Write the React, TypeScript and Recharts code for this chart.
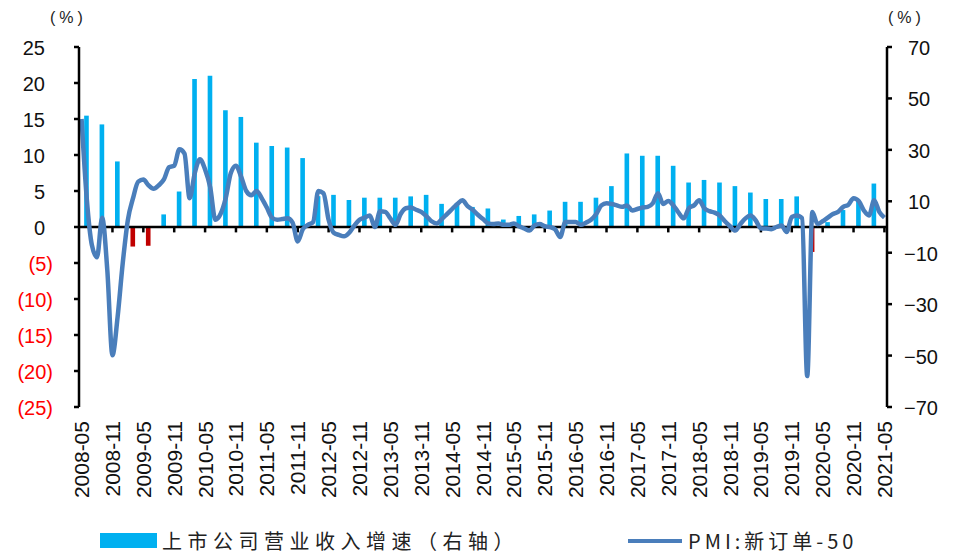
import { ComposedChart, Bar, Line, XAxis, YAxis, ReferenceLine, Cell } from "recharts";

// monthly categories 2008-05 .. 2021-05
const START_YEAR = 2008;
const START_MONTH = 5;
const MONTH_COUNT = 157;
const months: string[] = [];
for (let k = 0; k < MONTH_COUNT; k++) {
  const m = START_MONTH - 1 + k;
  const y = START_YEAR + Math.floor(m / 12);
  months.push(`${y}-${String((m % 12) + 1).padStart(2, "0")}`);
}

// PMI: new orders - 50 (left axis), monthly
const pmiNewOrders: number[] = [
  // 2008 May-Dec
  15, 4, -2.5, -4.2, 1.3, -6, -17.8, -12.5,
  // 2009
  -5, 1, 4, 6.3, 6.6, 5.8, 5.3, 5.8, 6.6, 8.3, 8.5, 10.8,
  // 2010
  10.2, 4.0, 7.5, 9.4, 8.0, 5.5, 1.0, 1.8, 4.0, 7.5, 8.5, 7.0,
  // 2011
  5.0, 4.4, 5.0, 4.0, 2.7, 1.3, 1.0, 1.1, 1.2, 0.6, -2.0, -0.3,
  // 2012
  0.3, 0.7, 5.0, 4.7, 1.0, -0.8, -1.1, -1.3, -0.8, 0.2, 1.0, 1.3,
  // 2013
  1.6, 0, 2.2, 2.1, 1.2, 0.3, 1.8, 2.6, 2.7, 2.4, 2.1, 1.5,
  // 2014
  0.8, 0.5, 1.1, 1.8, 2.5, 3.2, 3.7, 2.9, 2.4, 1.7, 1.1, 0.5,
  // 2015
  0.4, 0.5, 0.3, 0.3, 0.5, 0.1, -0.2, -0.5, 0.2, 0.4, 0.1, 0.0,
  // 2016
  -0.3, -1.4, 0.7, 0.7, 0.7, 0.3, 0.6, 1.0, 1.8, 3.0, 3.3, 3.2,
  // 2017
  3.0, 2.8, 3.0, 2.3, 2.5, 2.7, 2.8, 3.3, 4.7, 3.2, 3.6, 3.0,
  // 2018
  2.0, 1.2, 2.6, 3.0, 3.7, 2.6, 2.2, 2.0, 1.6, 0.8, 0.1, -0.5,
  // 2019
  0.4, 1.2, 1.6, 0.9, -0.2, -0.2, -0.3, 0, 0.2, -0.7, 1.4, 1.6,
  // 2020
  1.2, -20.7, 2.1, 0.4, 0.8, 1.3, 1.8, 2.1, 2.8, 3.1, 4.0, 3.6,
  // 2021 Jan-May
  2.3, 1.6, 3.7, 2.1, 1.3,
];

// listed companies revenue growth (right axis), quarter-end months 2008-06 .. 2021-03
const quarterMonths = months.filter((m) => /-(03|06|09|12)$/.test(m));
const revenueGrowth: number[] = [
  43.3, 39.9, 25.5,
  -7.6, -7.3, 4.9, 13.8,
  57.6, 58.8, 45.4, 42.8,
  32.8, 31.5, 30.9, 26.8,
  12.0, 12.5, 10.5, 11.4,
  11.4, 11.4, 11.9, 12.5,
  9.0, 9.2, 7.8, 7.2,
  2.9, 4.3, 4.9, 6.4,
  9.8, 9.8, 11.4, 15.9,
  28.6, 27.7, 27.7, 23.8,
  17.3, 18.3, 17.3, 15.9,
  13.4, 10.9, 10.9, 11.9,
  -9.7, 1.9, 6.6, 10.3,
  16.9,
];

const leftTicks = [25, 20, 15, 10, 5, 0, -5, -10, -15, -20, -25];
const rightTicks = [70, 50, 30, 10, -10, -30, -50, -70];
const tickMarkMonths = months.filter((_, i) => i > 0 && i % 6 === 0);

const revByMonth = new Map<string, number>();
quarterMonths.forEach((m, i) => revByMonth.set(m, revenueGrowth[i]));

const data = months.map((m, i) => ({
  month: m,
  pmi: pmiNewOrders[i],
  rev: revByMonth.has(m) ? revByMonth.get(m) : null,
}));

const NUM_FONT = "'Liberation Sans', Arial, sans-serif";
const CJK_FONT = "'Noto Sans CJK SC', 'Liberation Sans', sans-serif";

function LeftTick(props: any) {
  const { y, payload } = props;
  const v = payload.value as number;
  if (v < 0) {
    return (
      <text x={53} y={y + 1} textAnchor="end" dominantBaseline="central" fill="#FF0000" fontSize={20} fontFamily={NUM_FONT}>
        ({-v})
      </text>
    );
  }
  return (
    <text x={45} y={y + 1} textAnchor="end" dominantBaseline="central" fill="#111" fontSize={20} fontFamily={NUM_FONT}>
      {v}
    </text>
  );
}

function RightTick(props: any) {
  const { y, payload } = props;
  const v = payload.value as number;
  return (
    <text x={v < 0 ? 904 : 908} y={y + 1} textAnchor="start" dominantBaseline="central" fill="#111" fontSize={20} fontFamily={NUM_FONT}>
      {v < 0 ? `\u2212${-v}` : v}
    </text>
  );
}

function MonthTick(props: any) {
  const { x, payload } = props;
  const ty = 421;
  return (
    <text
      x={x}
      y={ty}
      transform={`rotate(-90, ${x}, ${ty})`}
      textAnchor="end"
      dominantBaseline="central"
      fill="#111"
      fontSize={21}
      fontFamily={NUM_FONT}
    >
      {payload.value}
    </text>
  );
}

export default function App() {
  const unitStyle = {
    position: "absolute" as const,
    top: 9,
    fontSize: 16,
    letterSpacing: 4,
    fontFamily: NUM_FONT,
    color: "#222",
  };
  return (
    <div style={{ position: "absolute", left: 0, top: 0, width: 959, height: 556, background: "#fff" }}>
      <div style={{ ...unitStyle, left: 50 }}>(%)</div>
      <div style={{ ...unitStyle, left: 888 }}>(%)</div>

      <ComposedChart width={959} height={556} data={data} margin={{ top: 47, right: 0, bottom: 39, left: 0 }}>
        <XAxis
          dataKey="month"
          interval={5}
          tick={MonthTick}
          tickLine={false}
          axisLine={false}
          height={110}
        />
        <YAxis
          yAxisId="left"
          domain={[-25, 25]}
          ticks={leftTicks}
          interval={0}
          width={79}
          tick={LeftTick}
          tickSize={5}
          axisLine={{ stroke: "#000", strokeWidth: 2.5 }}
          tickLine={{ stroke: "#000", strokeWidth: 2.5 }}
        />
        <YAxis
          yAxisId="right"
          orientation="right"
          domain={[-70, 70]}
          ticks={rightTicks}
          interval={0}
          width={72}
          tick={RightTick}
          tickSize={5}
          axisLine={{ stroke: "#000", strokeWidth: 2.5 }}
          tickLine={{ stroke: "#000", strokeWidth: 2.5 }}
        />
        <Bar yAxisId="right" dataKey="rev" barSize={6} isAnimationActive={false}>
          {data.map((d, i) => (
            <Cell key={i} fill={d.rev != null && d.rev < 0 ? "#C00000" : "#00B0F0"} />
          ))}
        </Bar>
        <ReferenceLine yAxisId="left" y={0} stroke="#000" strokeWidth={2.5} />
        {tickMarkMonths.map((m) => (
          <ReferenceLine
            key={m}
            yAxisId="left"
            segment={[
              { x: m, y: 0 },
              { x: m, y: -0.75 },
            ]}
            stroke="#000"
            strokeWidth={2.5}
          />
        ))}
        <Line
          yAxisId="left"
          type="monotone"
          dataKey="pmi"
          stroke="#4A7EBB"
          strokeWidth={4.5}
          dot={false}
          isAnimationActive={false}
        />
      </ComposedChart>

      {/* legend */}
      <div style={{ position: "absolute", left: 100, top: 533, width: 57, height: 15, background: "#00B0F0" }} />
      <div
        style={{
          position: "absolute",
          left: 162,
          top: 527,
          fontSize: 20,
          letterSpacing: 5.5,
          fontFamily: CJK_FONT,
          color: "#222",
          lineHeight: "28px",
        }}
      >
        上市公司营业收入增速（右轴）
      </div>
      <div style={{ position: "absolute", left: 628, top: 539, width: 54, height: 4, background: "#4A7EBB" }} />
      <div
        style={{
          position: "absolute",
          left: 688,
          top: 527,
          fontSize: 20,
          letterSpacing: 4,
          fontFamily: CJK_FONT,
          color: "#222",
          lineHeight: "28px",
        }}
      >
        PMI:新订单-50
      </div>
    </div>
  );
}
